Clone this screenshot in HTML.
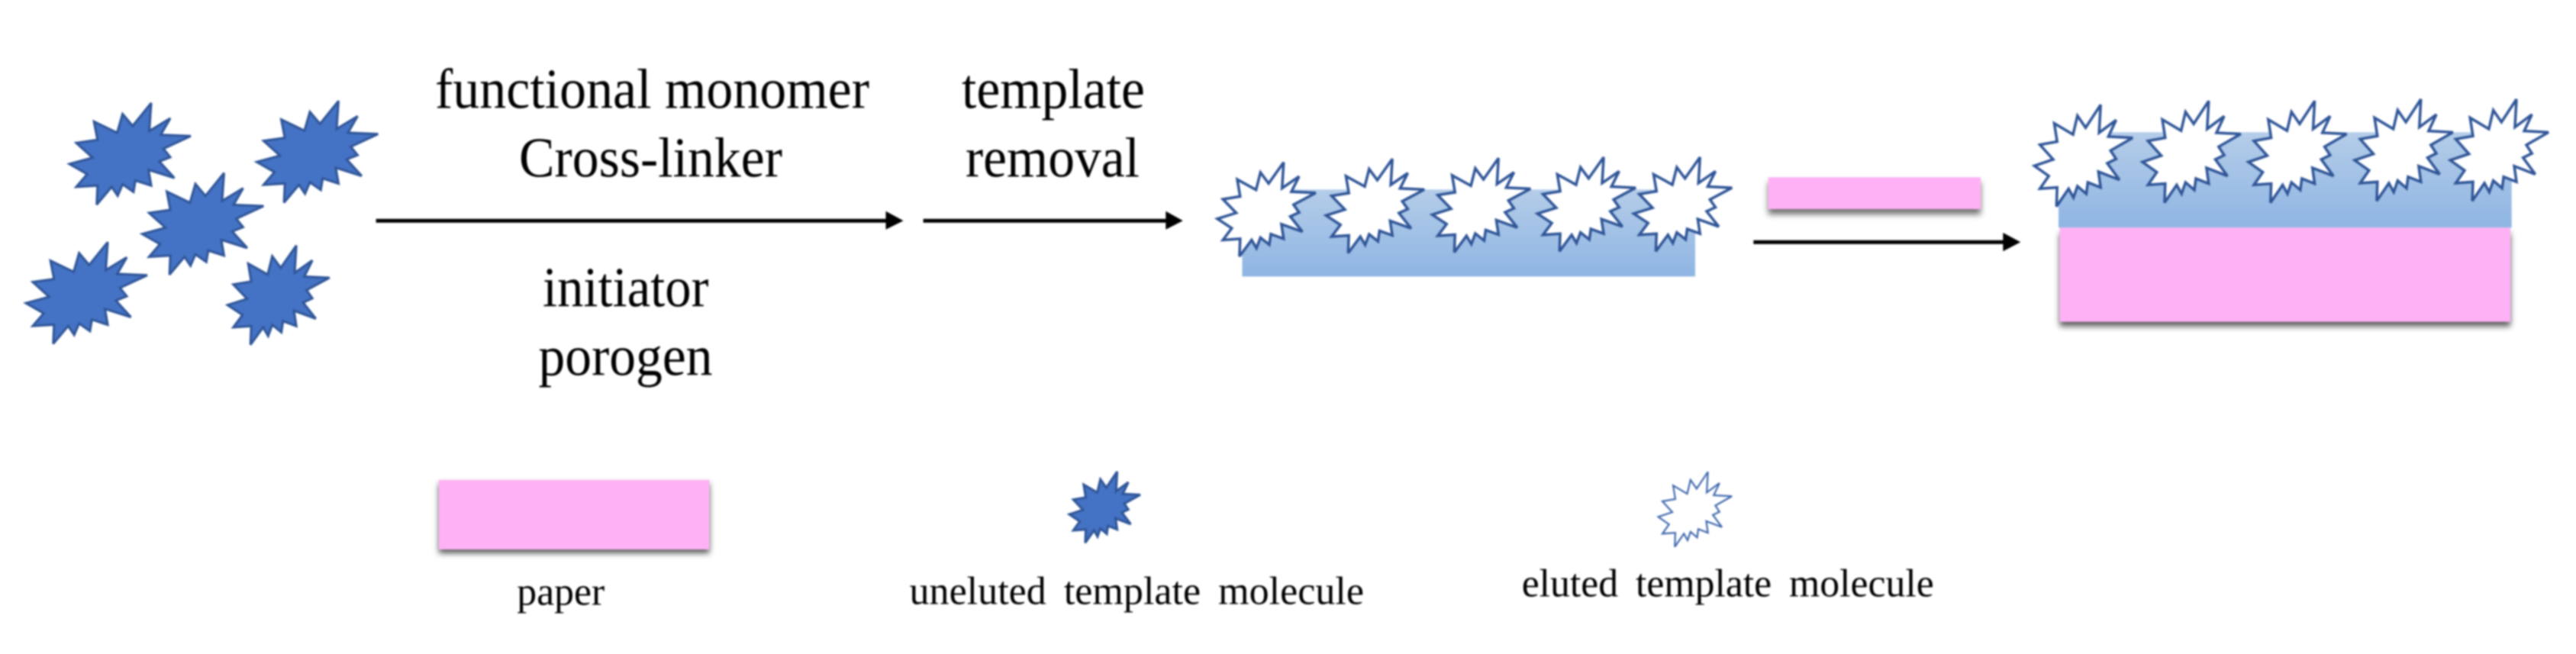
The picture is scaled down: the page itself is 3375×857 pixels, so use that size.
<!DOCTYPE html>
<html><head><meta charset="utf-8"><style>
html,body{margin:0;padding:0;background:#fff;width:3375px;height:857px;overflow:hidden}
svg{display:block;filter:blur(1.1px)}
text{font-family:"Liberation Serif",serif;fill:#000}
</style></head><body>
<svg width="3375" height="857" viewBox="0 0 3375 857" xmlns="http://www.w3.org/2000/svg">
<defs>
<polygon id="s" vector-effect="non-scaling-stroke" stroke-linejoin="miter" stroke-miterlimit="3" points="555,105 548,215 625,165 590,230 700,235 600,285 625,318 585,335 640,400 545,368 555,430 497,410 490,455 450,425 432,470 410,435 355,505 358,430 280,435 320,385 255,345 340,320 280,262 358,250 345,178 430,222 450,148 487,195"/>
<linearGradient id="g" x1="0" y1="0" x2="0" y2="1"><stop offset="0" stop-color="#b4cde9"/><stop offset="1" stop-color="#8fb5e3"/></linearGradient>
<filter id="b" x="-10%" y="-30%" width="120%" height="170%"><feGaussianBlur stdDeviation="4"/></filter>
</defs>
<rect width="3375" height="857" fill="#fff"/>

<!-- blue stars -->
<g fill="#4472c4" stroke="#2f5597" stroke-width="3">
<use href="#s" transform="translate(91,135) scale(.357,.333) translate(-255,-105)"/>
<use href="#s" transform="translate(336.4,132.3) scale(.357,.333) translate(-255,-105)"/>
<use href="#s" transform="translate(186.4,226.7) scale(.357,.333) translate(-255,-105)"/>
<use href="#s" transform="translate(34,317.3) scale(.357,.333) translate(-255,-105)"/>
<use href="#s" transform="translate(298.2,321.7) scale(.3,.325) translate(-255,-105)"/>
<use href="#s" transform="translate(1401,618) scale(.2089,.2333) translate(-255,-105)"/>
</g>

<!-- labels -->
<g font-size="74">
<text x="570" y="141.7" textLength="569" lengthAdjust="spacingAndGlyphs">functional monomer</text>
<text x="680" y="231.7" textLength="345" lengthAdjust="spacingAndGlyphs">Cross-linker</text>
<text x="1260" y="141.7" textLength="240" lengthAdjust="spacingAndGlyphs">template</text>
<text x="1265" y="231.7" textLength="228" lengthAdjust="spacingAndGlyphs">removal</text>
<text x="711" y="401.7" textLength="217.5" lengthAdjust="spacingAndGlyphs">initiator</text>
<text x="705.5" y="491.7" textLength="228" lengthAdjust="spacingAndGlyphs">porogen</text>
</g>

<!-- arrows -->
<g fill="#000">
<rect x="492.6" y="286.8" width="670" height="5"/>
<polygon points="1160.5,276.7 1183.6,289.3 1160.5,300.7"/>
<rect x="1209.6" y="286.8" width="320" height="5"/>
<polygon points="1527.3,276.7 1549.8,289.3 1527.3,300.7"/>
<rect x="2297.3" y="314.8" width="330" height="5"/>
<polygon points="2624.3,305 2647.3,317.3 2624.3,329.3"/>
</g>

<!-- first film -->
<rect x="1627.5" y="248.3" width="593.5" height="114" fill="url(#g)"/>
<g fill="#fff" stroke="#2f5597" stroke-width="3.5">
<use href="#s" transform="translate(1595,212.7) scale(.2893,.3083) translate(-255,-105)"/>
<use href="#s" transform="translate(1737.4,208.3) scale(.2893,.3083) translate(-255,-105)"/>
<use href="#s" transform="translate(1876.5,207.3) scale(.2893,.3083) translate(-255,-105)"/>
<use href="#s" transform="translate(2014.3,206) scale(.2893,.3083) translate(-255,-105)"/>
<use href="#s" transform="translate(2140.5,206) scale(.2893,.3083) translate(-255,-105)"/>
</g>

<!-- small paper -->
<rect x="2316.7" y="239" width="278.3" height="42" fill="#444" opacity=".75" filter="url(#b)"/>
<rect x="2316.7" y="232.3" width="278.3" height="41.7" fill="#ffb1f5"/>

<!-- composite -->
<rect x="2698.6" y="306" width="590.4" height="121.7" fill="#333" opacity=".8" filter="url(#b)"/>
<rect x="2697" y="173.3" width="593.7" height="125" fill="url(#g)"/>
<rect x="2698.6" y="298.3" width="590.4" height="123.4" fill="#ffb1f5"/>
<g fill="#fff" stroke="#2f5597" stroke-width="3.5">
<use href="#s" transform="translate(2665.4,137.3) scale(.2893,.3333) translate(-255,-105)"/>
<use href="#s" transform="translate(2807,132.3) scale(.2893,.3333) translate(-255,-105)"/>
<use href="#s" transform="translate(2945.8,132.3) scale(.2893,.3333) translate(-255,-105)"/>
<use href="#s" transform="translate(3085,130) scale(.2893,.3333) translate(-255,-105)"/>
<use href="#s" transform="translate(3210.2,130) scale(.2893,.3333) translate(-255,-105)"/>
</g>

<!-- legend -->
<rect x="575" y="634" width="354.3" height="91" fill="#333" opacity=".8" filter="url(#b)"/>
<rect x="575" y="629" width="354.3" height="91" fill="#ffb1f5"/>
<use href="#s" fill="#fff" stroke="#3f68ad" stroke-width="2.2" transform="translate(2172.6,618.3) scale(.2168,.2457) translate(-255,-105)"/>
<g font-size="52" style="word-spacing:10px">
<text x="677.3" y="792.7" textLength="115" lengthAdjust="spacingAndGlyphs">paper</text>
<text x="1191.5" y="791.7" textLength="595.5" lengthAdjust="spacingAndGlyphs">uneluted template molecule</text>
<text x="1993.7" y="781.7" textLength="540" lengthAdjust="spacingAndGlyphs">eluted template molecule</text>
</g>
</svg>
</body></html>
